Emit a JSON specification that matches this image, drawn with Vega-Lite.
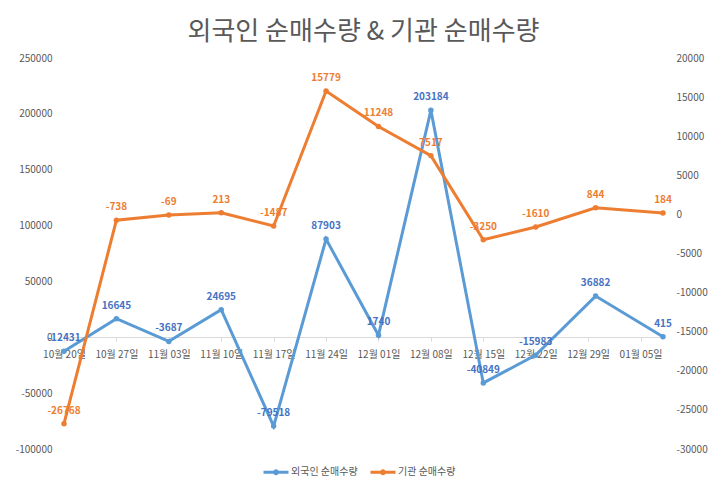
{
  "$schema": "https://vega.github.io/schema/vega-lite/v6.json",
  "autosize": "none",
  "width": 599,
  "height": 391,
  "padding": {"left": 64, "top": 58, "right": 62, "bottom": 43},
  "background": "white",
  "title": {
    "text": "외국인 순매수량 & 기관 순매수량",
    "font": "Noto Sans CJK KR",
    "fontSize": 26,
    "fontWeight": "normal",
    "color": "#595959",
    "offset": 8
  },
  "config": {
    "view": {"stroke": null},
    "font": "Noto Sans CJK KR"
  },
  "data": {
    "values": [
      {"date": "2023-10-20T00:00:00", "foreign": -12431, "inst": -26768},
      {"date": "2023-10-27T00:00:00", "foreign": 16645, "inst": -738},
      {"date": "2023-11-03T00:00:00", "foreign": -3687, "inst": -69},
      {"date": "2023-11-10T00:00:00", "foreign": 24695, "inst": 213},
      {"date": "2023-11-17T00:00:00", "foreign": -79518, "inst": -1487},
      {"date": "2023-11-24T00:00:00", "foreign": 87903, "inst": 15779},
      {"date": "2023-12-01T00:00:00", "foreign": 1740, "inst": 11248},
      {"date": "2023-12-08T00:00:00", "foreign": 203184, "inst": 7517},
      {"date": "2023-12-15T00:00:00", "foreign": -40849, "inst": -3250},
      {"date": "2023-12-22T00:00:00", "foreign": -15983, "inst": -1610},
      {"date": "2023-12-30T00:00:00", "foreign": 36882, "inst": 844},
      {"date": "2024-01-08T00:00:00", "foreign": 415, "inst": 184}
    ]
  },
  "encoding": {
    "x": {
      "field": "date",
      "type": "temporal",
      "scale": {
        "domain": [
          {"year": 2023, "month": 10, "date": 20},
          {"year": 2024, "month": 1, "date": 8}
        ]
      },
      "axis": {
        "title": null,
        "values": [
          {"year": 2023, "month": 10, "date": 20},
          {"year": 2023, "month": 10, "date": 27},
          {"year": 2023, "month": 11, "date": 3},
          {"year": 2023, "month": 11, "date": 10},
          {"year": 2023, "month": 11, "date": 17},
          {"year": 2023, "month": 11, "date": 24},
          {"year": 2023, "month": 12, "date": 1},
          {"year": 2023, "month": 12, "date": 8},
          {"year": 2023, "month": 12, "date": 15},
          {"year": 2023, "month": 12, "date": 22},
          {"year": 2023, "month": 12, "date": 29},
          {"year": 2024, "month": 1, "date": 5}
        ],
        "format": "%m월 %d일",
        "offset": -112,
        "grid": false,
        "domainColor": "#D9D9D9",
        "tickColor": "#D9D9D9",
        "tickSize": 4,
        "labelPadding": 8,
        "labelColor": "#595959",
        "labelFontSize": 10,
        "labelOverlap": false,
        "labelFlush": false
      }
    }
  },
  "layer": [
    {
      "encoding": {
        "y": {
          "field": "foreign",
          "type": "quantitative",
          "scale": {"domain": [-100000, 250000], "nice": false, "zero": false},
          "axis": {
            "orient": "left",
            "title": null,
            "values": [-100000, -50000, 0, 50000, 100000, 150000, 200000, 250000],
            "labelExpr": "'' + datum.value",
            "domain": false,
            "ticks": false,
            "grid": false,
            "labelOverlap": false,
            "labelPadding": 12,
            "labelColor": "#595959",
            "labelFontSize": 10
          }
        }
      },
      "layer": [
        {
          "mark": {"type": "line", "strokeWidth": 3, "point": {"filled": true, "size": 30}},
          "encoding": {
            "color": {
              "datum": "외국인 순매수량",
              "type": "nominal",
              "scale": {
                "domain": ["외국인 순매수량", "기관 순매수량"],
                "range": ["#5B9BD5", "#ED7D31"]
              },
              "legend": {
                "title": null,
                "orient": "none",
                "direction": "horizontal",
                "legendX": 198,
                "legendY": 400,
                "padding": 0,
                "symbolType": "M-1,0L1,0M-0.12,0A0.12,0.12 0 1,1 0.12,0A0.12,0.12 0 1,1 -0.12,0",
                "symbolSize": 625,
                "symbolStrokeWidth": 3,
                "labelColor": "#595959",
                "labelFontSize": 10,
                "labelOffset": 1,
                "columnPadding": 6
              }
            }
          }
        },
        {
          "mark": {"type": "text", "dy": -13, "fontWeight": "bold", "fontSize": 10, "color": "#4472C4"},
          "encoding": {
            "text": {"field": "foreign", "type": "nominal"}
          }
        }
      ]
    },
    {
      "encoding": {
        "y": {
          "field": "inst",
          "type": "quantitative",
          "scale": {"domain": [-30000, 20000], "nice": false, "zero": false},
          "axis": {
            "orient": "right",
            "title": null,
            "values": [-30000, -25000, -20000, -15000, -10000, -5000, 0, 5000, 10000, 15000, 20000],
            "labelExpr": "'' + datum.value",
            "domain": false,
            "ticks": false,
            "grid": false,
            "labelOverlap": false,
            "labelPadding": 13,
            "labelColor": "#595959",
            "labelFontSize": 10
          }
        }
      },
      "layer": [
        {
          "mark": {"type": "line", "strokeWidth": 3, "point": {"filled": true, "size": 30}},
          "encoding": {
            "color": {"datum": "기관 순매수량", "type": "nominal"}
          }
        },
        {
          "mark": {"type": "text", "dy": -13, "fontWeight": "bold", "fontSize": 10, "color": "#ED7D31"},
          "encoding": {
            "text": {"field": "inst", "type": "nominal"}
          }
        }
      ]
    }
  ],
  "resolve": {"scale": {"y": "independent"}}
}
